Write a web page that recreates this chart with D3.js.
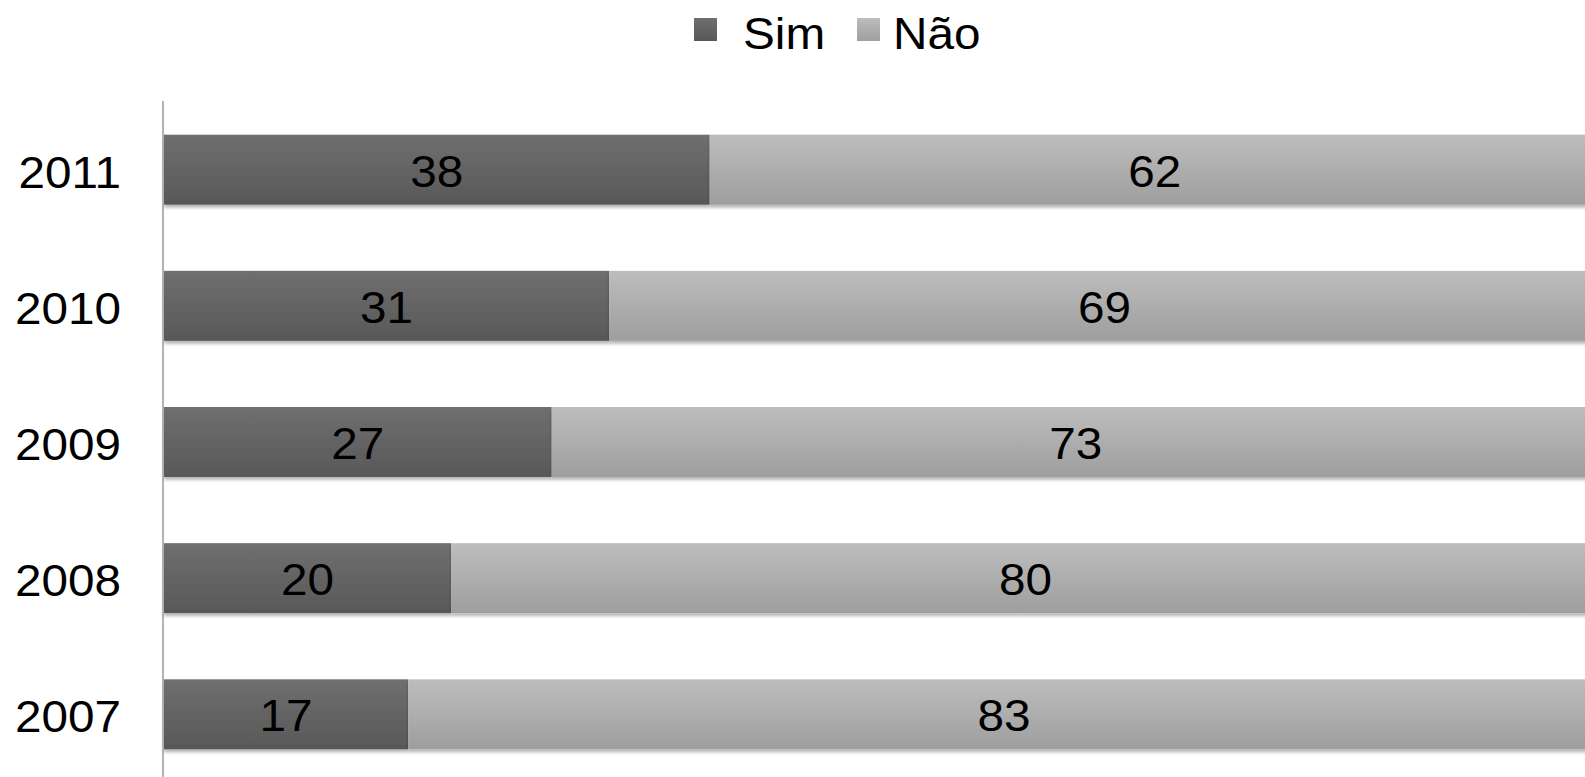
<!DOCTYPE html>
<html>
<head>
<meta charset="utf-8">
<script src="https://cdn.jsdelivr.net/npm/d3@7"></script>
<style>
  html, body { margin: 0; padding: 0; background: #fff; overflow: hidden; }
  svg { display: block; font-family: "Liberation Sans", Arial, sans-serif; }
</style>
</head>
<body>
<svg id="chart" width="1585" height="777"></svg>
<script>
// data (percent)
var years = ["2011", "2010", "2009", "2008", "2007"];
var sim = [38, 31, 27, 20, 17];
var nao = [62, 69, 73, 80, 83];
var seriesNames = ["Sim", "Não"];

var W = 1585, H = 777;
var FS = 45, SX = 1.06;   // the original text is a bit wide, stretch it a little
var svg = d3.select("#chart");

// gradients for the two series + a soft shadow under the bars
var defs = svg.append("defs");
function grad(id, top, bottom) {
    var g = defs.append("linearGradient").attr("id", id)
        .attr("x1", 0).attr("y1", 0).attr("x2", 0).attr("y2", 1);
    g.append("stop").attr("offset", "0%").attr("stop-color", top);
    g.append("stop").attr("offset", "100%").attr("stop-color", bottom);
}
grad("gSim", "#6f6f6f", "#585858");
grad("gNao", "#bdbdbd", "#9e9e9e");

var f = defs.append("filter").attr("id", "shadow")
    .attr("x", "-5%").attr("y", "-20%").attr("width", "110%").attr("height", "150%");
f.append("feDropShadow").attr("dx", 0).attr("dy", 3).attr("stdDeviation", 1.6)
    .attr("flood-color", "#000").attr("flood-opacity", 0.28);

var fills = ["url(#gSim)", "url(#gNao)"];

//scales
var x = d3.scaleLinear().domain([0, 100]).range([164, 1600]);
var y = d3.scaleBand().domain(years).range([101.6, 782.4])
    .paddingInner(0.486).paddingOuter(0.243);

function place(px, py) { return "translate(" + px + "," + py + ") scale(" + SX + ",1)"; }

// stack the two series
var rows = years.map(function (yr, i) { return {year: yr, Sim: sim[i], "Não": nao[i]}; });
var stacked = d3.stack().keys(seriesNames)(rows);

var layers = svg.append("g").attr("class", "bars")
    .selectAll("g").data(stacked).enter().append("g")
    .attr("fill", function (d, i) { return fills[i]; });

layers.selectAll("rect").data(function (d) { return d; }).enter().append("rect")
    .attr("x", function (d) { return x(d[0]); })
    .attr("y", function (d) { return y(d.data.year); })
    .attr("width", function (d) { return x(d[1]) - x(d[0]); })
    .attr("height", y.bandwidth())
    .attr("filter", "url(#shadow)");

// value labels in the middle of each segment
layers.selectAll("text").data(function (d) { return d.map(function (s) { return {s: s, key: d.key}; }); })
    .enter().append("text")
    .attr("transform", function (d) {
        return place((x(d.s[0]) + x(d.s[1])) / 2, y(d.s.data.year) + y.bandwidth() / 2 + 17);
    })
    .attr("text-anchor", "middle")
    .attr("font-size", FS + "px")
    .attr("fill", "#000")
    .text(function (d) { return d.s.data[d.key]; });

// category axis: only a vertical line, labels on the left
var yAxis = svg.append("g").attr("transform", "translate(163,0)")
    .call(d3.axisLeft(y).tickSize(0).tickPadding(0));
yAxis.select(".domain").attr("d", "M0,101V" + H).attr("stroke", "#9a9a9a").attr("stroke-width", 1.5);
yAxis.selectAll(".tick text")
    .attr("x", null).attr("dy", null)
    .attr("transform", place(-42, 18))
    .attr("font-size", FS + "px")
    .attr("font-family", "Liberation Sans, Arial, sans-serif")
    .attr("fill", "#000");

// legend
var legendPos = [{sq: 694, tx: 743}, {sq: 857, tx: 893}];
var legend = svg.append("g").attr("class", "legend")
    .selectAll("g").data(seriesNames).enter().append("g");
legend.append("rect")
    .attr("x", function (d, i) { return legendPos[i].sq; })
    .attr("y", 18).attr("width", 23).attr("height", 23)
    .attr("fill", function (d, i) { return fills[i]; });
legend.append("text")
    .attr("transform", function (d, i) { return place(legendPos[i].tx, 49); })
    .attr("font-size", FS + "px")
    .attr("fill", "#000")
    .text(function (d) { return d; });
</script>
</body>
</html>
